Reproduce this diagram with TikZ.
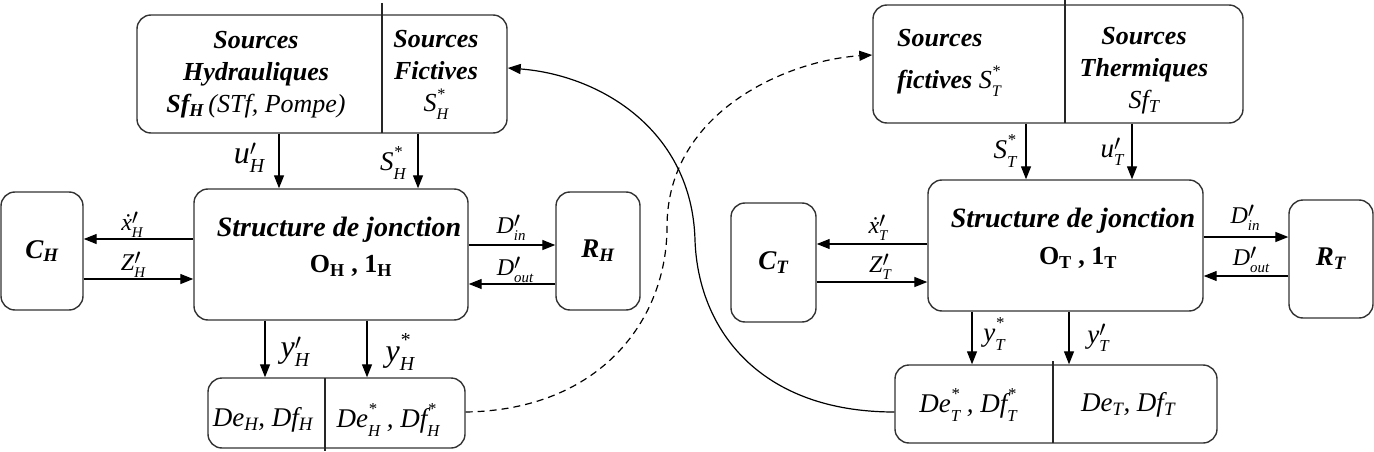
\documentclass[tikz,border=0pt]{standalone}
\usepackage{fontspec}
\setmainfont{Liberation Serif}
\usepackage{graphicx}
\usetikzlibrary{arrows.meta}
% star superscript + subscript
\newcommand{\sx}[2]{#1\rlap{\raisebox{.48em}{\scalebox{.62}{*}}}\raisebox{-.3em}{\scalebox{.62}{#2}}}
% prime superscript + subscript
\newcommand{\pp}[2]{#1\rlap{\raisebox{.24em}{\scalebox{.9}{$\prime$}}}\raisebox{-.3em}{\scalebox{.62}{#2}}}
\newcommand{\dx}{\iffontchar\font"1E8B \symbol{"1E8B}\else\makebox[0pt][l]{\hspace{.2em}\raisebox{.5em}{.}}x\fi}
\begin{document}
\begin{tikzpicture}[x=1pt,y=-1pt,
 box/.style={draw=black!80,line width=1.4pt,rounded corners=14pt,inner sep=0pt},
 arr/.style={line width=1.3pt,-{Triangle[length=13pt,width=10pt]}},
 divl/.style={line width=1.3pt,draw=black!85},
 lab/.style={inner sep=0pt,font=\fontsize{24}{26}\selectfont\itshape},
 mlab/.style={inner sep=0pt,font=\fontsize{27}{29}\selectfont\itshape},
 blab/.style={inner sep=0pt,font=\fontsize{32}{34}\selectfont\itshape},
 big/.style={inner sep=0pt,align=center,font=\fontsize{26}{32}\selectfont\bfseries\itshape},
 boxlab/.style={box,font=\fontsize{27}{30}\selectfont\bfseries\itshape},
 dtext/.style={inner sep=0pt,font=\fontsize{27}{30}\selectfont\itshape},
]
\useasboundingbox (0,0) rectangle (1374,452);

% ---------- boxes ----------
\node[box,minimum width=370pt,minimum height=118pt] (srcH) at (322,74) {};
\node[box,minimum width=370pt,minimum height=118pt] (srcT) at (1058,64) {};
\node[box,minimum width=274pt,minimum height=131pt] (sjH) at (331,254.5) {};
\node[box,minimum width=275pt,minimum height=131pt] (sjT) at (1065.5,245.5) {};
\node[boxlab,minimum width=82pt,minimum height=118pt] (CH) at (42,251) {C\textsubscript{H}};
\node[boxlab,minimum width=84pt,minimum height=118pt] (RH) at (598,251) {R\textsubscript{H}};
\node[boxlab,minimum width=85pt,minimum height=119pt] (CT) at (773.5,262.5) {C\textsubscript{T}};
\node[boxlab,minimum width=84pt,minimum height=118pt] (RT) at (1331,259) {R\textsubscript{T}};
\node[box,minimum width=257pt,minimum height=70pt] (dH) at (336.5,413) {};
\node[box,minimum width=322pt,minimum height=78pt] (dT) at (1056,404) {};

% ---------- dividers ----------
\draw[divl] (382,3) -- (382,133);
\draw[divl] (1065,0) -- (1065,123);
\draw[divl] (325,378) -- (325,451);
\draw[divl] (1053,361) -- (1053,443);

% ---------- box texts ----------
\node[big] (tsH) at (256,75) {Sources\\Hydrauliques\\Sf\textsubscript{H}\,\textmd{(STf, Pompe)}};
\node[big] (tfH) at (436,75) {Sources\\Fictives\\\textmd{\sx{S}{H}}};
\node[big,align=left,anchor=west] (tfT) at (897,63) {Sources\\[10pt]fictives \textmd{\sx{S}{T}}};
\node[big] (ttT) at (1144,71) {Sources\\Thermiques\\\textmd{Sf\textsubscript{T}}};
\node[inner sep=0pt,font=\fontsize{28}{32}\selectfont\bfseries\itshape] (sjH1) at (339,230) {Structure de jonction};
\node[inner sep=0pt,font=\fontsize{26}{30}\selectfont\bfseries] (sjH2) at (351,266) {O\textsubscript{H} , 1\textsubscript{H}};
\node[inner sep=0pt,font=\fontsize{28}{32}\selectfont\bfseries\itshape] (sjT1) at (1073,221) {Structure de jonction};
\node[inner sep=0pt,font=\fontsize{26}{30}\selectfont\bfseries] (sjT2) at (1078,258) {O\textsubscript{T} , 1\textsubscript{T}};
\node[dtext] (tdH1) at (263,420) {De\textsubscript{H}, Df\textsubscript{H}};
\node[dtext] (tdH2) at (388,420) {\sx{De}{H} , \sx{Df}{H}};
\node[dtext] (tdT1) at (968,405) {\sx{De}{T} ,\ \sx{Df}{T}};
\node[dtext] (tdT2) at (1128,405) {De\textsubscript{T}, Df\textsubscript{T}};

% ---------- helper coordinates ----------
\coordinate (xuH) at (279,0);  \coordinate (xsH) at (418,0);
\coordinate (yxH) at (0,239);  \coordinate (yzH) at (0,279);
\coordinate (ydiH) at (0,245); \coordinate (ydoH) at (0,284);
\coordinate (xyH1) at (265,0); \coordinate (xyH2) at (367,0);
\coordinate (xsT) at (1026,0); \coordinate (xuT) at (1132,0);
\coordinate (yxT) at (0,244);  \coordinate (yzT) at (0,282);
\coordinate (ydiT) at (0,237); \coordinate (ydoT) at (0,276);
\coordinate (xyT1) at (972,0); \coordinate (xyT2) at (1069,0);
\coordinate (ys1) at (0,412);  \coordinate (ys2) at (0,68); \coordinate (yd2) at (0,55);

% ---------- arrows (left) ----------
\draw[arr] (srcH.south -| xuH) -- (sjH.north -| xuH);
\draw[arr] (srcH.south -| xsH) -- (sjH.north -| xsH);
\draw[arr] (sjH.west |- yxH) -- (CH.east |- yxH);
\draw[arr] (CH.east |- yzH) -- (sjH.west |- yzH);
\draw[arr] (sjH.east |- ydiH) -- (RH.west |- ydiH);
\draw[arr] (RH.west |- ydoH) -- (sjH.east |- ydoH);
\draw[arr] (sjH.south -| xyH1) -- (dH.north -| xyH1);
\draw[arr] (sjH.south -| xyH2) -- (dH.north -| xyH2);
% ---------- arrows (right) ----------
\draw[arr] (srcT.south -| xsT) -- (sjT.north -| xsT);
\draw[arr] (srcT.south -| xuT) -- (sjT.north -| xuT);
\draw[arr] (sjT.west |- yxT) -- (CT.east |- yxT);
\draw[arr] (CT.east |- yzT) -- (sjT.west |- yzT);
\draw[arr] (sjT.east |- ydiT) -- (RT.west |- ydiT);
\draw[arr] (RT.west |- ydoT) -- (sjT.east |- ydoT);
\draw[arr] (sjT.south -| xyT1) -- (dT.north -| xyT1);
\draw[arr] (sjT.south -| xyT2) -- (dT.north -| xyT2);

% ---------- curves ----------
\draw[arr,line width=1.2pt] (dT.west |- ys1) .. controls (760,412) and (698,330) .. (695,240) .. controls (692,130) and (600,75) .. (srcH.east |- ys2);
\draw[arr,line width=1.2pt,dash pattern=on 7pt off 5pt] (dH.east |- ys1) .. controls (600,410) and (667,320) .. (667,227) .. controls (667,110) and (790,60) .. (srcT.west |- yd2);

% ---------- labels ----------
\node[blab] (luH) at (249,158) {\pp{u}{H}};
\node[mlab] (lsH) at (393,163) {\sx{S}{H}};
\node[lab] (lxH) at (132,225) {\pp{\dx}{H}};
\node[lab] (lzH) at (133,265) {\pp{Z}{H}};
\node[lab] (ldiH) at (511,228) {\pp{D}{in}};
\node[lab] (ldoH) at (515,270) {\pp{D}{out}};
\node[blab] (lyH1) at (295,352) {\pp{y}{H}};
\node[blab] (lyH2) at (400,352) {\sx{y}{H}};
\node[mlab] (lsT) at (1005,151) {\sx{S}{T}};
\node[mlab] (luT) at (1112,152) {\pp{u}{T}};
\node[lab] (lxT) at (878,228) {\pp{\dx}{T}};
\node[lab] (lzT) at (880,267) {\pp{Z}{T}};
\node[lab] (ldiT) at (1245,218) {\pp{D}{in}};
\node[lab] (ldoT) at (1251,260) {\pp{D}{out}};
\node[mlab] (lyT1) at (994,334) {\sx{y}{T}};
\node[mlab] (lyT2) at (1098,338) {\pp{y}{T}};
\end{tikzpicture}
\end{document}
